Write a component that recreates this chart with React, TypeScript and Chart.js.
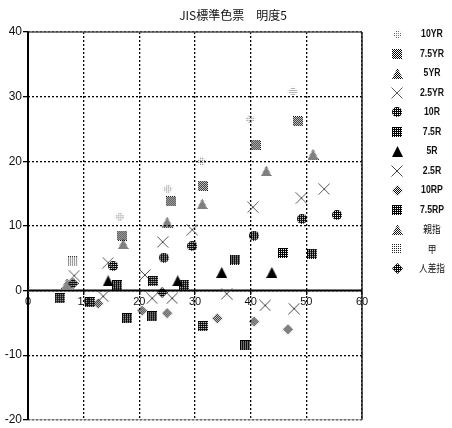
import React, { useEffect, useRef } from 'react';
import { Chart, registerables } from 'chart.js';
Chart.register(...registerables);

const titleText = 'JIS標準色票　明度5';
const seriesLabels = ['10YR', '7.5YR', '5YR', '2.5YR', '10R', '7.5R', '5R', '2.5R', '10RP', '7.5RP', '親指', '甲', '人差指'];
const xTicks = [0, 10, 20, 30, 40, 50, 60];
const yTicks = [-20, -10, 0, 10, 20, 30, 40];

const d10YR: [number, number][] = [[0, 0], [16.5, 11.4], [25.1, 15.7], [31.2, 20.0], [39.9, 26.5], [47.6, 30.8]];
const d75YR: [number, number][] = [[16.9, 8.5], [25.7, 13.8], [31.4, 16.2], [40.9, 22.5], [48.5, 26.2]];
const d5YR: [number, number][] = [[17.1, 7.2], [25.0, 10.6], [31.3, 13.4], [42.8, 18.5], [51.2, 21.1]];
const d25YR: [number, number][] = [[8.3, 2.3], [14.4, 4.3], [24.2, 7.5], [29.5, 9.4], [40.4, 12.9], [49.1, 14.3], [53.2, 15.7]];
const d10R: [number, number][] = [[15.3, 3.8], [24.4, 5.1], [29.5, 6.9], [40.6, 8.5], [49.2, 11.1], [55.5, 11.7]];
const d75R: [number, number][] = [[16.0, 0.8], [22.5, 1.5], [28.0, 0.9], [37.2, 4.8], [45.8, 5.8], [51.0, 5.7]];
const d5R: [number, number][] = [[14.4, 1.5], [26.9, 1.5], [34.8, 2.8], [43.8, 2.8]];
const d25R: [number, number][] = [[21.0, 2.4], [13.5, -0.9], [22.3, -1.2], [25.9, -1.2], [35.7, -0.5], [42.6, -2.3], [47.8, -2.8]];
const d10RP: [number, number][] = [[12.6, -2.0], [20.5, -3.1], [25.0, -3.5], [34.0, -4.3], [40.6, -4.8], [46.7, -6.0]];
const d75RP: [number, number][] = [[5.7, -1.2], [11.1, -1.8], [17.8, -4.3], [22.3, -4.0], [31.4, -5.5], [39.0, -8.5]];
const dThumb: [number, number][] = [[7.0, 1.1]];
const dBack: [number, number][] = [[8.1, 4.5]];
const dIndex: [number, number][] = [[8.1, 1.1], [24.1, -0.3]];

const seriesData = [d10YR, d75YR, d5YR, d25YR, d10R, d75R, d5R, d25R, d10RP, d75RP, dThumb, dBack, dIndex];

type Shape = 'square' | 'circle' | 'triangle' | 'diamond' | 'x';
type Pat = 'solid' | 'dark' | 'checker' | 'light';

function makeMarker(shape: Shape, pat: Pat, size: number, color: string): HTMLCanvasElement {
  const c = document.createElement('canvas');
  c.width = size;
  c.height = size;
  const ctx = c.getContext('2d')!;
  const s = size;
  if (shape === 'x') {
    ctx.strokeStyle = color;
    ctx.lineWidth = 1;
    ctx.beginPath();
    ctx.moveTo(0.5, 0.5);
    ctx.lineTo(s - 0.5, s - 0.5);
    ctx.moveTo(s - 0.5, 0.5);
    ctx.lineTo(0.5, s - 0.5);
    ctx.stroke();
    return c;
  }
  ctx.beginPath();
  if (shape === 'square') ctx.rect(0, 0, s, s);
  else if (shape === 'circle') ctx.arc(s / 2, s / 2, s / 2, 0, Math.PI * 2);
  else if (shape === 'triangle') {
    ctx.moveTo(s / 2, 0);
    ctx.lineTo(s, s);
    ctx.lineTo(0, s);
    ctx.closePath();
  } else {
    ctx.moveTo(s / 2, 0);
    ctx.lineTo(s, s / 2);
    ctx.lineTo(s / 2, s);
    ctx.lineTo(0, s / 2);
    ctx.closePath();
  }
  ctx.clip();
  ctx.fillStyle = color;
  for (let i = 0; i < s; i++) {
    for (let j = 0; j < s; j++) {
      let on = false;
      if (pat === 'solid') on = true;
      else if (pat === 'dark') on = !(i % 2 === 1 && j % 2 === 1);
      else if (pat === 'checker') on = (i + j) % 2 === 0;
      else if (pat === 'light') on = i % 2 === 0 && j % 2 === 0;
      if (on) ctx.fillRect(i, j, 1, 1);
    }
  }
  return c;
}

const FONT = '"Liberation Sans", Arial, sans-serif';

export default function App() {
  const ref = useRef<HTMLCanvasElement | null>(null);
  useEffect(() => {
    if (!ref.current) return;
    const markers = [
      makeMarker('diamond', 'light', 11, '#6a6a6a'),
      makeMarker('square', 'checker', 10, '#000'),
      makeMarker('triangle', 'checker', 11, '#000'),
      makeMarker('x', 'solid', 12, '#555'),
      makeMarker('circle', 'dark', 10, '#000'),
      makeMarker('square', 'dark', 10, '#000'),
      makeMarker('triangle', 'solid', 11, '#000'),
      makeMarker('x', 'solid', 12, '#444'),
      makeMarker('diamond', 'checker', 11, '#000'),
      makeMarker('square', 'dark', 10, '#000'),
      makeMarker('triangle', 'checker', 11, '#111'),
      makeMarker('square', 'light', 10, '#222'),
      makeMarker('diamond', 'dark', 11, '#000'),
    ];

    const framePlugin = {
      id: 'frame',
      beforeDatasetsDraw(chart: any) {
        const { ctx, chartArea: a, scales } = chart;
        const x0 = scales.x.getPixelForValue(0);
        const y0 = scales.y.getPixelForValue(0);
        ctx.save();
        ctx.setLineDash([]);
        ctx.strokeStyle = '#555';
        ctx.lineWidth = 1.3;
        ctx.beginPath();
        ctx.moveTo(a.left, a.top);
        ctx.lineTo(a.right, a.top);
        ctx.stroke();
        ctx.strokeStyle = '#999';
        ctx.lineWidth = 1;
        ctx.beginPath();
        ctx.moveTo(a.left, a.bottom);
        ctx.lineTo(a.right, a.bottom);
        ctx.stroke();
        ctx.strokeStyle = '#222';
        ctx.lineWidth = 1.5;
        ctx.beginPath();
        ctx.moveTo(a.right, a.top);
        ctx.lineTo(a.right, a.bottom);
        ctx.stroke();
        ctx.strokeStyle = '#000';
        ctx.lineWidth = 2;
        ctx.beginPath();
        ctx.moveTo(a.left, y0);
        ctx.lineTo(a.right, y0);
        ctx.moveTo(x0, a.top);
        ctx.lineTo(x0, a.bottom);
        ctx.stroke();
        ctx.restore();
      },
    };

    const overlayPlugin = {
      id: 'overlay',
      afterDraw(chart: any) {
        const { ctx } = chart;
        ctx.save();
        ctx.fillStyle = '#111';
        ctx.font = '12px "Noto Sans CJK JP", sans-serif';
        ctx.textAlign = 'center';
        ctx.textBaseline = 'middle';
        ctx.fillText(titleText, 233, 15);
        seriesLabels.forEach((lab, i) => {
          const y = 34 + i * 19.5;
          const m = markers[i];
          ctx.drawImage(m, Math.round(397 - m.width / 2), Math.round(y - m.height / 2));
          ctx.save();
          ctx.translate(432, y + 0.5);
          ctx.scale(0.87, 1);
          const cjk = /[^\x00-\x7f]/.test(lab);
          ctx.font = cjk ? '10px "Noto Sans CJK JP", sans-serif' : 'bold 10px ' + FONT;
          ctx.fillStyle = '#111';
          ctx.textAlign = 'center';
          ctx.textBaseline = 'middle';
          ctx.fillText(lab, 0, 0);
          ctx.restore();
        });
        ctx.restore();
      },
    };

    const chart = new Chart(ref.current, {
      type: 'scatter',
      data: {
        datasets: seriesData.map((d, k) => ({
          label: seriesLabels[k],
          data: d.map(([x, y]) => ({ x, y })),
          pointStyle: markers[k] as any,
          pointRadius: 5,
          pointHoverRadius: 5,
          showLine: false,
        })),
      },
      options: {
        animation: false,
        responsive: false,
        maintainAspectRatio: false,
        events: [],
        layout: { padding: { left: 0, top: 32, right: 90, bottom: 7 } },
        plugins: {
          legend: { display: false },
          title: { display: false },
          tooltip: { enabled: false },
        },
        scales: {
          x: {
            type: 'linear',
            min: 0,
            max: 60,
            position: { y: 0 } as any,
            afterBuildTicks: (s: any) => {
              s.ticks = xTicks.map((v) => ({ value: v }));
            },
            ticks: {
              autoSkip: false,
              maxRotation: 0,
              color: '#111',
              padding: 1,
              font: { family: FONT, size: 11 },
            },
            grid: { color: '#000', lineWidth: 1.3, tickLength: 4, tickColor: '#000' },
            border: { display: false, dash: [2, 2] } as any,
          },
          y: {
            type: 'linear',
            min: -20,
            max: 40,
            position: 'left',
            afterFit: (s: any) => {
              s.width = 28;
            },
            afterBuildTicks: (s: any) => {
              s.ticks = yTicks.map((v) => ({ value: v }));
            },
            ticks: {
              autoSkip: false,
              color: '#111',
              padding: 1,
              font: { family: FONT, size: 12 },
            },
            grid: { color: '#000', lineWidth: 1.3, tickLength: 5, tickColor: '#000' },
            border: { display: false, dash: [2, 2] } as any,
          },
        },
      },
      plugins: [framePlugin, overlayPlugin],
    });
    return () => chart.destroy();
  }, []);

  return (
    <div style={{ position: 'absolute', left: 0, top: 0, width: 452, height: 428, background: '#fff' }}>
      <canvas ref={ref} width={452} height={428} style={{ display: 'block' }} />
    </div>
  );
}
